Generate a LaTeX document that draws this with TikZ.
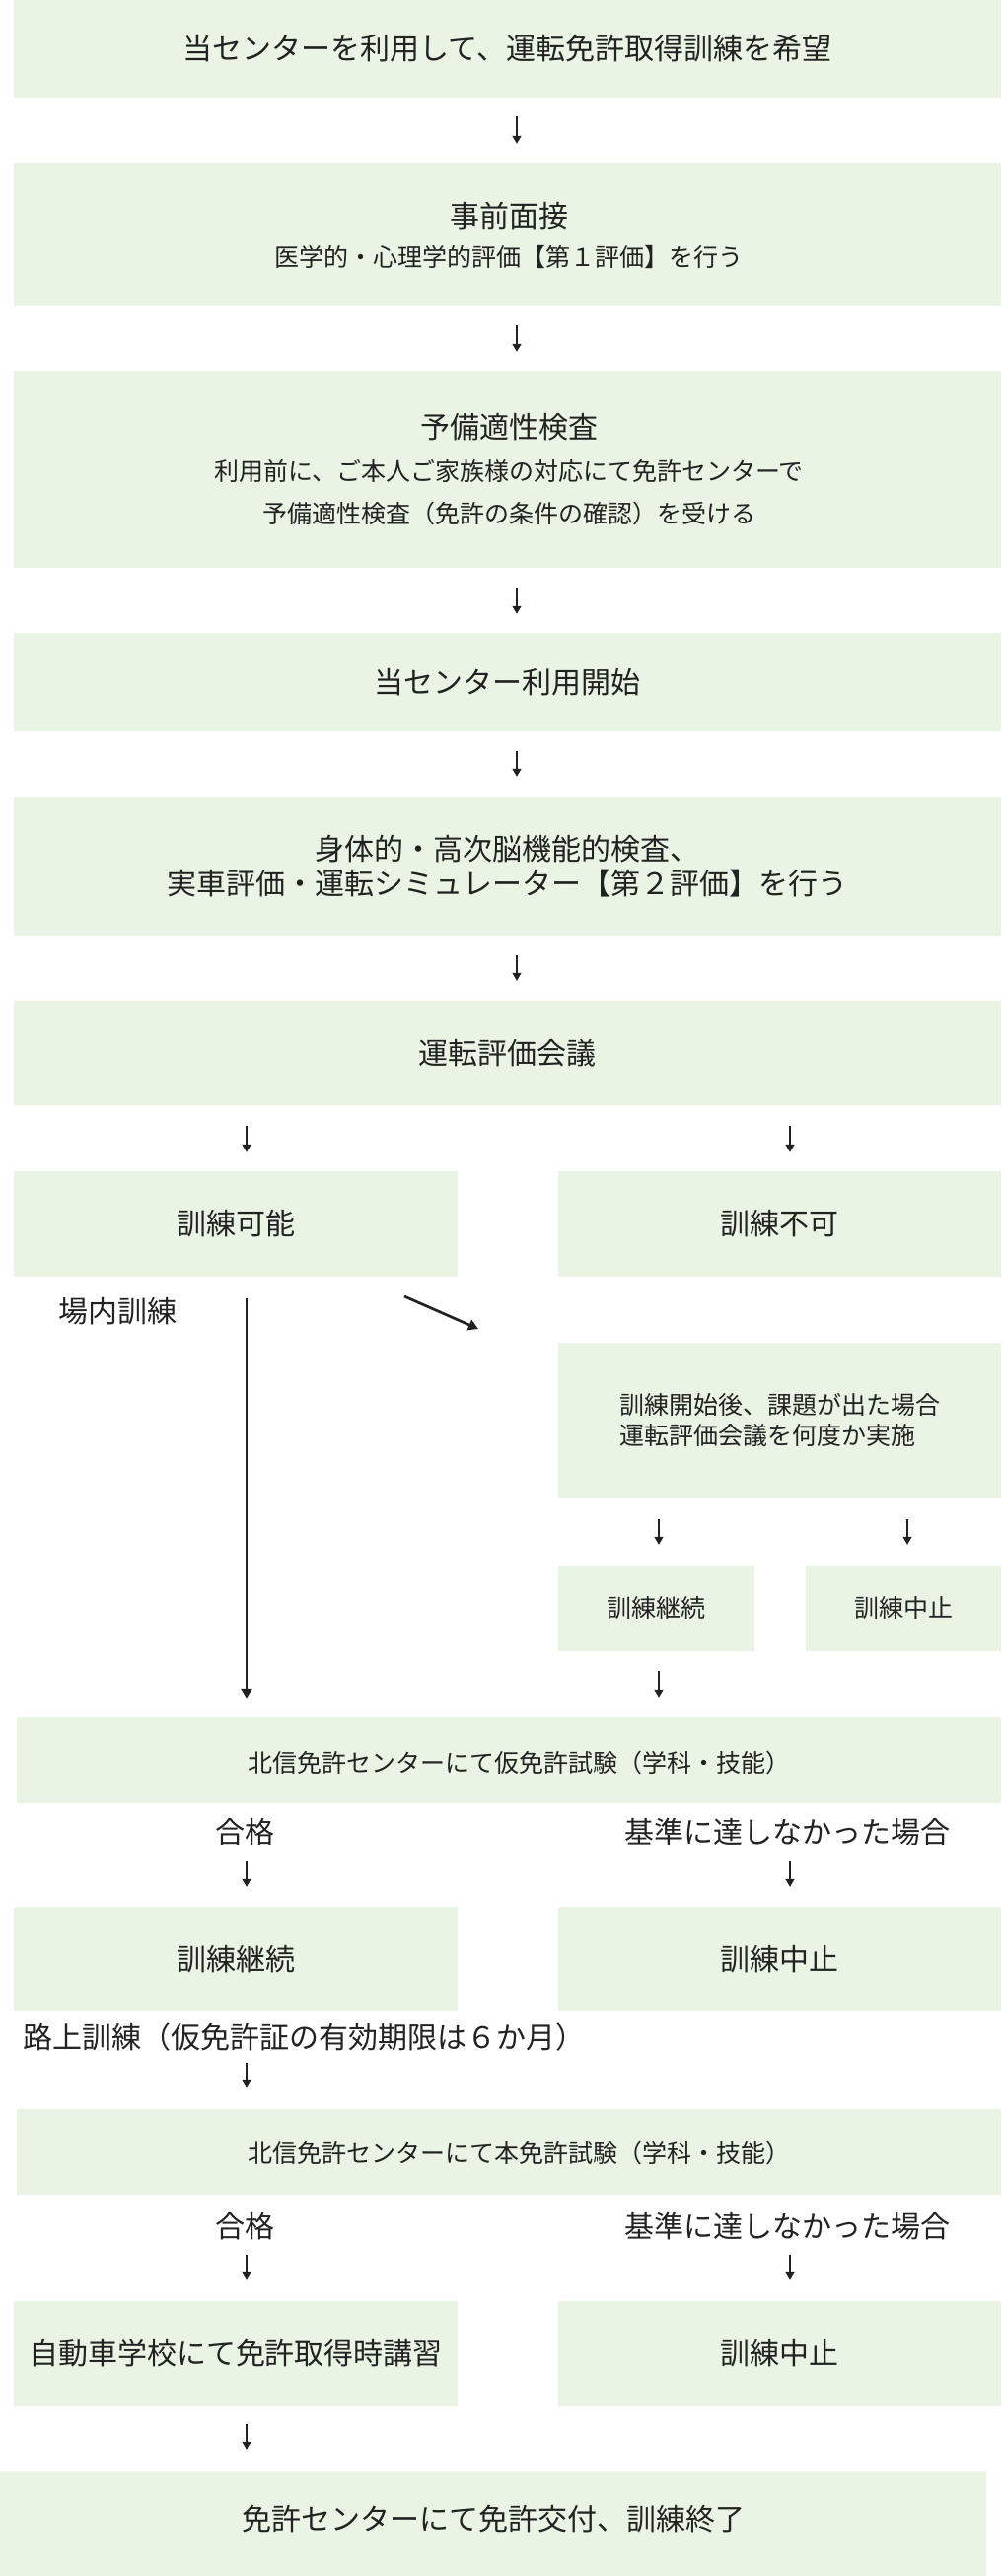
\documentclass[tikz,border=0pt]{standalone}
\usepackage{fontspec}
\setmainfont{Noto Sans CJK JP}
\usetikzlibrary{arrows.meta}
\definecolor{boxgreen}{RGB}{233,244,228}
\definecolor{ink}{RGB}{34,34,34}
\newcommand{\flowbig}{\fontsize{30pt}{35pt}\selectfont}
\newcommand{\flowsmall}{\fontsize{25pt}{31pt}\selectfont}
\newcommand{\flownote}{\fontsize{25pt}{43pt}\selectfont}

\begin{document}
\begin{tikzpicture}[x=1pt,y=-1pt]
        \tikzstyle{box}=[rectangle,fill=boxgreen,inner sep=0pt,text=ink,font=\flowbig]
        \tikzstyle{wide}=[box,minimum width=1001pt]
        \tikzstyle{half}=[box,minimum width=450pt,minimum height=107pt]
        \tikzstyle{minibox}=[box,minimum width=199pt,minimum height=87.5pt,font=\flowsmall]
        \tikzstyle{flowtext}=[inner sep=0pt,text=ink,font=\flowbig]
        \tikzstyle{flow}=[draw=ink,line width=1.4pt,-{Triangle[length=8pt,width=9pt]},shorten <=20pt,shorten >=19pt]
        \tikzstyle{longflow}=[draw=ink,line width=2.7pt,-{Triangle[length=10pt,width=11pt]}]
          \useasboundingbox (0,0) rectangle (1017,2613);
          \coordinate (colM) at (524,0);
          \coordinate (colL) at (250,0);
          \coordinate (colR) at (801,0);
          \coordinate (colA) at (668,0);
          \coordinate (colB) at (920,0);
          \node (wish) at (514.5,49.5) [wide,minimum height=99pt] {当センターを利用して、運転免許取得訓練を希望};
          \node (interview) at (514.5,237.5) [wide,minimum height=145pt] {};
          \node (interviewTitle) at (516,219) [flowtext] {事前面接};
          \node (interviewNote) at (516,261) [flowtext,font=\flowsmall] {医学的・心理学的評価【第１評価】を行う};
          \node (aptitude) at (514.5,476) [wide,minimum height=200pt] {};
          \node (aptitudeTitle) at (516,433) [flowtext] {予備適性検査};
          \node (aptitudeNote) at (516,499.5) [flowtext,font=\flownote,align=center] {利用前に、ご本人ご家族様の対応にて免許センターで\\予備適性検査（免許の条件の確認）を受ける};
          \node (start) at (514.5,692) [wide,minimum height=100pt] {当センター利用開始};
          \node (physical) at (514.5,878.5) [wide,minimum height=141pt,align=center] {身体的・高次脳機能的検査、\\実車評価・運転シミュレーター【第２評価】を行う};
          \node (meeting) at (514.5,1068) [wide,minimum height=106pt] {運転評価会議};
          \node (possible) at (239,1241.5) [half] {訓練可能};
          \node (impossible) at (790.5,1241.5) [half,minimum width=449pt] {訓練不可};
          \node (onsite) at (119,1330) [flowtext] {場内訓練};
          \node (issue) at (790.5,1440.75) [box,minimum width=449pt,minimum height=157.5pt,font=\flowsmall,align=left] {訓練開始後、課題が出た場合\\運転評価会議を何度か実施};
          \node (keep1) at (665.5,1631.25) [minibox] {訓練継続};
          \node (stop1) at (916,1631.25) [minibox,minimum width=198pt] {訓練中止};
          \node (provisional) at (516,1785.25) [box,minimum width=998pt,minimum height=87.5pt] {};
          \node (provisionalText) at (526,1788) [flowtext,font=\flowsmall] {北信免許センターにて仮免許試験（学科・技能）};
          \node (pass1) at (248,1858) [flowtext] {合格};
          \node (fail1) at (798,1858) [flowtext] {基準に達しなかった場合};
          \node (keep2) at (239,1987) [half,minimum height=106pt] {訓練継続};
          \node (stop2) at (790.5,1987) [half,minimum width=449pt,minimum height=106pt] {訓練中止};
          \node (road) at (23,2066) [flowtext,anchor=west] {路上訓練（仮免許証の有効期限は６か月）};
          \node (fullexam) at (516,2183) [box,minimum width=998pt,minimum height=88pt] {};
          \node (fullexamText) at (526,2184) [flowtext,font=\flowsmall] {北信免許センターにて本免許試験（学科・技能）};
          \node (pass2) at (248,2258) [flowtext] {合格};
          \node (fail2) at (798,2258) [flowtext] {基準に達しなかった場合};
          \node (lecture) at (239,2387.3) [half,minimum height=106.6pt] {自動車学校にて免許取得時講習};
          \node (stop3) at (790.5,2387.3) [half,minimum width=449pt,minimum height=106.6pt] {訓練中止};
          \node (issued) at (500,2559.25) [box,minimum width=1000pt,minimum height=107.5pt] {};
          \node (issuedText) at (500,2555) [flowtext] {免許センターにて免許交付、訓練終了};
          \coordinate (slantA) at (410,1315);
          \coordinate (slantB) at (485,1348);
          \draw [flow,shorten <=19pt] (wish.south -| colM) -- (interview.north -| colM);
          \draw [flow] (interview.south -| colM) -- (aptitude.north -| colM);
          \draw [flow] (aptitude.south -| colM) -- (start.north -| colM);
          \draw [flow,shorten >=20pt] (start.south -| colM) -- (physical.north -| colM);
          \draw [flow,shorten >=20pt] (physical.south -| colM) -- (meeting.north -| colM);
          \draw [flow,shorten <=21pt] (meeting.south -| colL) -- (possible.north -| colL);
          \draw [flow,shorten <=21pt] (meeting.south -| colR) -- (impossible.north -| colR);
          \draw [longflow,shorten <=22pt,shorten >=18.5pt] (possible.south -| colL) -- (provisional.north -| colL);
          \draw [longflow] (slantA) -- (slantB);
          \draw [flow,shorten <=21.5pt,shorten >=20.5pt] (issue.south -| colA) -- (keep1.north -| colA);
          \draw [flow,shorten <=21.5pt,shorten >=20.5pt] (issue.south -| colB) -- (stop1.north -| colB);
          \draw [flow,shorten >=19.5pt] (keep1.south -| colA) -- (provisional.north -| colA);
          \draw [flow,shorten <=29.5pt,shorten >=20pt] (pass1.center -| colL) -- (keep2.north -| colL);
          \draw [flow,shorten <=29.5pt,shorten >=20pt] (fail1.center -| colR) -- (stop2.north -| colR);
          \draw [flow,shorten <=27pt,shorten >=21pt] (road.center -| colL) -- (fullexam.north -| colL);
          \draw [flow,shorten <=29pt,shorten >=21pt] (pass2.center -| colL) -- (lecture.north -| colL);
          \draw [flow,shorten <=29pt,shorten >=21pt] (fail2.center -| colR) -- (stop3.north -| colR);
          \draw [flow,shorten <=18.5pt,shorten >=20.5pt] (lecture.south -| colL) -- (issued.north -| colL);
      \end{tikzpicture}
\end{document}
